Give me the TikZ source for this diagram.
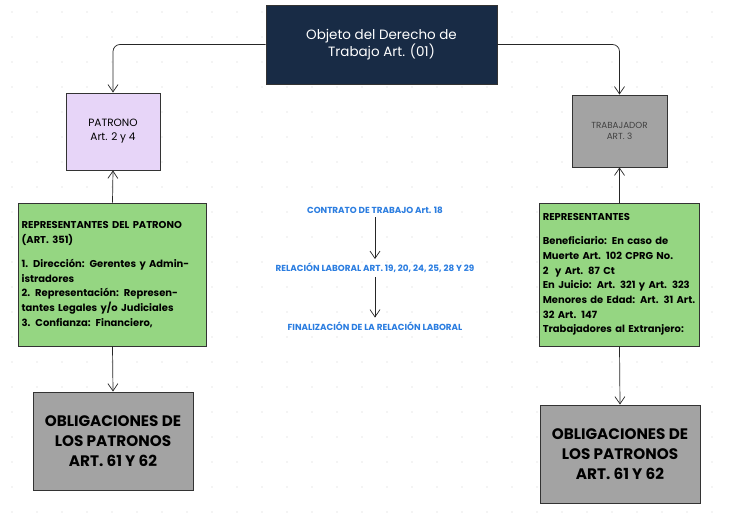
\documentclass[tikz,border=0pt]{standalone}
\usepackage{fontspec}
\setmainfont{Poppins}
\usetikzlibrary{arrows.meta,positioning}
\definecolor{navy}{HTML}{182B45}
\definecolor{lilac}{HTML}{E7D5F8}
\definecolor{boxgray}{HTML}{A3A3A3}
\definecolor{leaf}{HTML}{95D682}
\definecolor{linkblue}{HTML}{2B7DE0}
\tikzset{
  box/.style={draw=black!80,line width=0.8pt,align=center,inner sep=3pt},
  note/.style={box,fill=leaf,align=left,text width=#1,font=\fontsize{8.5}{12.5}\selectfont\bfseries},
  oblig/.style={box,fill=boxgray,minimum width=4.8cm,minimum height=2.94cm,font=\fontsize{13}{17}\selectfont\bfseries},
  stage/.style={text=linkblue,font=\fontsize{7.5}{9}\selectfont\bfseries},
  link/.style={-{Straight Barb[length=2.2mm,width=3mm]},line width=0.6pt,black!85}
}
\begin{document}
\begin{tikzpicture}[x=0.03cm,y=-0.03cm]
  \useasboundingbox (0,0) rectangle (734,517);
  % dotted background
  \foreach \i in {0,...,29}{
    \foreach \j in {0,...,20}{
      \fill[black!18] (12+\i*25,12+\j*25) circle (0.5pt);
    }
  }
  % main boxes
  \node[box,fill=navy,text=white,minimum width=6.93cm,minimum height=2.37cm,font=\fontsize{11.5}{15}\selectfont] (objeto) at (381.5,44.5) {Objeto del Derecho de\\Trabajo Art. (01)};
  \node[box,fill=lilac,minimum width=2.82cm,minimum height=2.31cm,font=\fontsize{9}{12}\selectfont] (patrono) at (113,131.5) {PATRONO\\Art. 2 y 4};
  \node[box,fill=boxgray,minimum width=2.85cm,minimum height=2.16cm,font=\fontsize{7.5}{10}\selectfont,text=black!75] (trabajador) at (619.5,131) {TRABAJADOR\\ART. 3};
  \node[note=5.45cm,minimum height=4.29cm] (repPatrono) at (112.5,274.5) {REPRESENTANTES DEL PATRONO (ART. 351)\\[8pt]1. Dirección: Gerentes y Administradores\\2. Representación: Representantes Legales y/o Judiciales\\3. Confianza: Financiero,};
  \node[note=4.6cm,minimum height=4.29cm] (repTrab) at (619.5,274.5) {REPRESENTANTES\\[8pt]Beneficiario: En caso de Muerte Art. 102 CPRG No. 2~ y Art. 87 Ct\\En Juicio: Art. 321 y Art. 323\\Menores de Edad: Art. 31 Art. 32 Art. 147\\Trabajadores al Extranjero:};
  \node[oblig] (obligL) at (113,441) {OBLIGACIONES DE\\LOS PATRONOS\\ART. 61 Y 62};
  \node[oblig] (obligR) at (620,454) {OBLIGACIONES DE\\LOS PATRONOS\\ART. 61 Y 62};
  % center sequence
  \node[stage] (contrato) at (375,210) {CONTRATO DE TRABAJO Art. 18};
  \node[stage] (relacion) at (375,268) {RELACIÓN LABORAL ART. 19, 20, 24, 25, 28 Y 29};
  \node[stage] (fin) at (375,326) {FINALIZACIÓN DE LA RELACIÓN LABORAL};
  % connectors
  \draw[link,rounded corners=6pt] (objeto.west) -| (patrono.north);
  \draw[link,rounded corners=6pt] (objeto.east) -| (trabajador.north);
  \draw[link] (repPatrono.north) -- (patrono.south);
  \draw[link] (repTrab.north) -- (trabajador.south);
  \draw[link] (repPatrono.south) -- (obligL.north);
  \draw[link] (repTrab.south) -- (obligR.north);
  \draw[link] (contrato) -- (relacion);
  \draw[link] (relacion) -- (fin);
\end{tikzpicture}
\end{document}
